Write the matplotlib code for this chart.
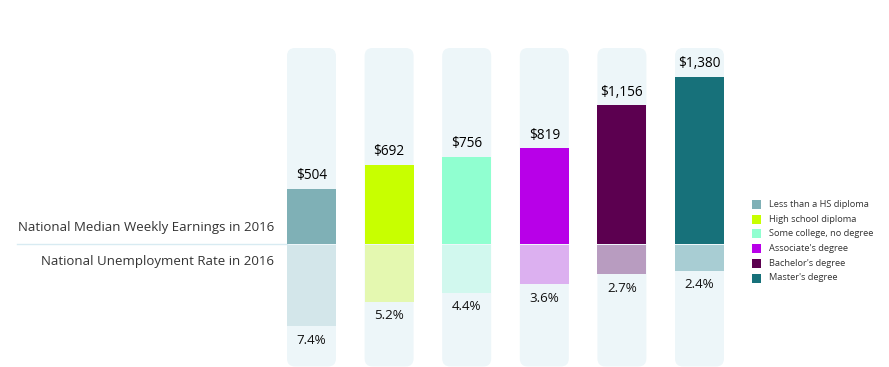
import matplotlib
matplotlib.use("Agg")
import matplotlib.pyplot as plt
from matplotlib.patches import FancyBboxPatch, Rectangle

plt.rcParams['font.family'] = ['Open Sans', 'DejaVu Sans']

categories = ["Less than a HS diploma", "High school diploma", "Some college, no degree",
              "Associate's degree", "Bachelor's degree", "Master's degree"]
earnings = [504, 692, 756, 819, 1156, 1380]
unemployment = [7.4, 5.2, 4.4, 3.6, 2.7, 2.4]
earn_labels = ["$504", "$692", "$756", "$819", "$1,156", "$1,380"]
unemp_labels = ["7.4%", "5.2%", "4.4%", "3.6%", "2.7%", "2.4%"]

dark_colors = ["#7fb0b6", "#c8ff00", "#90ffd0", "#b800e8", "#5c0050", "#17717a"]
light_colors = ["#d3e6ea", "#e4f8b0", "#d1f8ee", "#dcb0f0", "#b89cc0", "#a8cdd3"]
col_bg = "#edf6f9"

W, H = 889, 367
fig = plt.figure(figsize=(W / 100, H / 100), dpi=100)
ax = fig.add_axes([0, 0, 1, 1])

sp = 77.6
x0 = 311.5
ax.set_xlim(-x0 / sp, (W - x0) / sp)
ax.set_ylim(244 - H, 244)
ax.axis('off')

earn_base = 70.5
earn_scale = 0.1276
unemp_base = 0.09
unemp_scale = 11.05
bw = 49 / sp
col_top = 244 - 48
col_bot = 244 - 366.5
gap = 1.3

for i in range(len(categories)):
    r = 8 / sp
    bg = FancyBboxPatch((i - bw / 2, col_bot), bw, col_top - col_bot,
                        boxstyle=f"round,pad=0,rounding_size={r}",
                        mutation_aspect=sp, fc=col_bg, ec='none', zorder=1)
    ax.add_patch(bg)
    eh = (earnings[i] - earn_base) * earn_scale
    ax.bar(i, eh, width=bw, bottom=0, color=dark_colors[i], zorder=2, linewidth=0)
    uh = (unemployment[i] - unemp_base) * unemp_scale
    ax.bar(i, -uh, width=bw, bottom=-gap, color=light_colors[i], zorder=2, linewidth=0)
    ax.text(i, eh + 13, earn_labels[i], ha='center', va='center', fontsize=9.8,
            color='#000000', zorder=3)
    ax.text(i, -gap - uh - 14, unemp_labels[i], ha='center', va='center', fontsize=9.6,
            color='#111111', zorder=3)

ax.plot([(17 - x0) / sp, (287 - x0) / sp], [0.3, 0.3], color='#d8ebf2', lw=1, zorder=1)
ax.text((274 - x0) / sp, 244 - 227.5, "National Median Weekly Earnings in 2016",
        ha='right', va='center', fontsize=9.5, color='#333333')
ax.text((274 - x0) / sp, 244 - 262, "National Unemployment Rate in 2016",
        ha='right', va='center', fontsize=9.5, color='#333333')

for k, (c, lab) in enumerate(zip(dark_colors, categories)):
    yc = 244 - (204.5 + 14.7 * k)
    ax.add_patch(Rectangle(((752 - x0) / sp, yc - 4.5), 9 / sp, 9, fc=c, ec='none'))
    ax.text((769 - x0) / sp, yc, lab, ha='left', va='center', fontsize=6.7, color='#333333')

fig.savefig("out.png", dpi=100)
